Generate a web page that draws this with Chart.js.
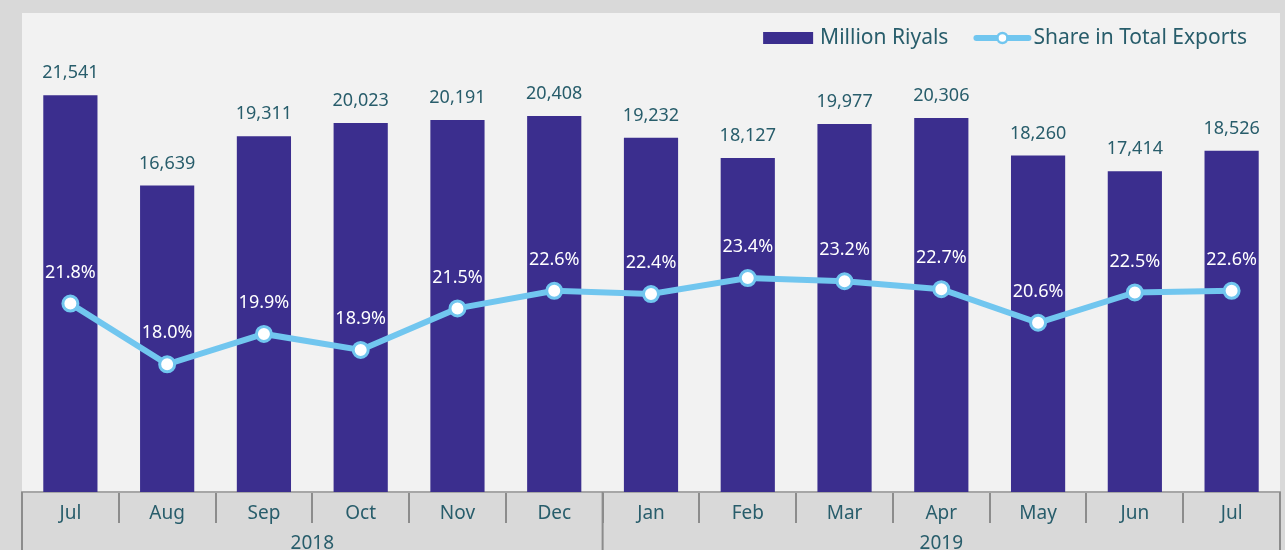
<!DOCTYPE html>
<html>
<head>
<meta charset="utf-8">
<script src="https://cdn.jsdelivr.net/npm/chart.js@4"></script>
<style>
  html, body { margin: 0; padding: 0; background: #d9d9d9; }
  #wrap { width: 1285px; height: 550px; position: relative; }
</style>
</head>
<body>
<div id="wrap"><canvas id="chart"></canvas></div>
<script>
// Données du graphique
const months = ['Jul', 'Aug', 'Sep', 'Oct', 'Nov', 'Dec', 'Jan', 'Feb', 'Mar', 'Apr', 'May', 'Jun', 'Jul'];
const years = ['2018', '2019'];
const yearSpans = [6, 7];
const millionRiyals = [21541, 16639, 19311, 20023, 20191, 20408, 19232, 18127, 19977, 20306, 18260, 17414, 18526];
const shareOfExports = [21.8, 18.0, 19.9, 18.9, 21.5, 22.6, 22.4, 23.4, 23.2, 22.7, 20.6, 22.5, 22.6];

// Couleurs et police
const BAR_COLOR = '#3b2e8e';
const LINE_COLOR = '#71c6ef';
const TEXT_COLOR = '#285d6b';
const FONT = "'Noto Sans', sans-serif";

// Fond clair de la zone de tracé
const plotBackground = {
    id: 'plotBackground',
    beforeDraw(chart) {
        const { ctx, chartArea } = chart;
        ctx.save();
        ctx.fillStyle = '#f2f2f2';
        ctx.fillRect(chartArea.left, chartArea.top, chartArea.right - chartArea.left, chartArea.bottom - chartArea.top);
        ctx.restore();
    }
};

// Légende en haut à droite, dans la zone de tracé
const topLegend = {
    id: 'topLegend',
    afterDraw(chart) {
        const { ctx, chartArea } = chart;
        const [bars, line] = chart.data.datasets;
        const y = chartArea.top + 25;
        ctx.save();
        ctx.font = `21px ${FONT}`;
        ctx.textBaseline = 'middle';
        ctx.fillStyle = TEXT_COLOR;
        // de droite à gauche
        let x = chartArea.right - 33;
        x -= ctx.measureText(line.label).width;
        ctx.fillText(line.label, x, y);
        x -= 5;
        ctx.strokeStyle = line.borderColor;
        ctx.lineWidth = 6;
        ctx.lineCap = 'round';
        ctx.beginPath();
        ctx.moveTo(x - 52, y);
        ctx.lineTo(x, y);
        ctx.stroke();
        ctx.beginPath();
        ctx.arc(x - 26, y, 5, 0, Math.PI * 2);
        ctx.fillStyle = '#ffffff';
        ctx.fill();
        ctx.lineWidth = 2.5;
        ctx.stroke();
        x -= 55 + 25;
        ctx.fillStyle = TEXT_COLOR;
        x -= ctx.measureText(bars.label).width;
        ctx.fillText(bars.label, x, y);
        x -= 7;
        ctx.fillStyle = bars.backgroundColor;
        ctx.fillRect(x - 50, y - 6, 50, 12);
        ctx.restore();
    }
};

// Étiquettes de valeurs au-dessus des barres et des points
const valueLabels = {
    id: 'valueLabels',
    afterDatasetsDraw(chart) {
        const { ctx } = chart;
        ctx.save();
        ctx.font = `18px ${FONT}`;
        ctx.textAlign = 'center';
        ctx.textBaseline = 'middle';
        chart.getDatasetMeta(0).data.forEach((bar, i) => {
            ctx.fillStyle = TEXT_COLOR;
            ctx.fillText(millionRiyals[i].toLocaleString('en-US'), bar.x, bar.y - 22);
        });
        chart.getDatasetMeta(1).data.forEach((pt, i) => {
            ctx.fillStyle = '#ffffff';
            ctx.fillText(shareOfExports[i].toFixed(1) + '%', pt.x, pt.y - 31);
        });
        ctx.restore();
    }
};

// Deuxième rangée de l'axe : années
const yearRow = {
    id: 'yearRow',
    afterDraw(chart) {
        const { ctx } = chart;
        const x = chart.scales.x;
        const half = (x.getPixelForValue(1) - x.getPixelForValue(0)) / 2;
        ctx.save();
        ctx.strokeStyle = '#8c8c8c';
        ctx.lineWidth = 2;
        ctx.fillStyle = TEXT_COLOR;
        ctx.font = `19px ${FONT}`;
        ctx.textAlign = 'center';
        ctx.textBaseline = 'middle';
        let start = 0;
        const drawEdge = px => {
            ctx.beginPath();
            ctx.moveTo(px, x.top);
            ctx.lineTo(px, chart.height);
            ctx.stroke();
        };
        drawEdge(x.getPixelForValue(0) - half);
        years.forEach((year, i) => {
            const end = start + yearSpans[i] - 1;
            const left = x.getPixelForValue(start) - half;
            const right = x.getPixelForValue(end) + half;
            drawEdge(right);
            ctx.fillText(year, (left + right) / 2, x.top + 52);
            start = end + 1;
        });
        ctx.restore();
    }
};

new Chart(document.getElementById('chart'), {
    data: {
        labels: months,
        datasets: [{
            type: 'bar',
            label: 'Million Riyals',
            data: millionRiyals,
            backgroundColor: BAR_COLOR,
            categoryPercentage: 1,
            barPercentage: 0.56,
            yAxisID: 'y',
            order: 1
        }, {
            type: 'line',
            label: 'Share in Total Exports',
            data: shareOfExports,
            borderColor: LINE_COLOR,
            borderWidth: 6,
            pointRadius: 7.5,
            pointBorderWidth: 3,
            pointBackgroundColor: '#ffffff',
            pointBorderColor: LINE_COLOR,
            tension: 0,
            yAxisID: 'y1',
            order: 0
        }]
    },
    options: {
        responsive: true,
        maintainAspectRatio: false,
        animation: false,
        layout: { autoPadding: false, padding: { left: 22, right: 5, top: 13, bottom: 0 } },
        plugins: {
            tooltip: { enabled: false },
            legend: { display: false }
        },
        scales: {
            x: {
                grid: {
                    offset: true,
                    drawOnChartArea: false,
                    drawTicks: true,
                    tickLength: 31,
                    color: '#8c8c8c',
                    lineWidth: 2
                },
                border: { display: true, color: '#a6a6a6', width: 2 },
                ticks: {
                    color: TEXT_COLOR,
                    font: { family: FONT, size: 19 },
                    padding: -21,
                    maxRotation: 0,
                    autoSkip: false
                },
                afterFit(scale) { scale.height = 58; }
            },
            y: { display: false, min: 0, max: 26000 },
            y1: { display: false, min: 10, max: 40 }
        }
    },
    plugins: [plotBackground, valueLabels, yearRow, topLegend]
});
</script>
</body>
</html>
